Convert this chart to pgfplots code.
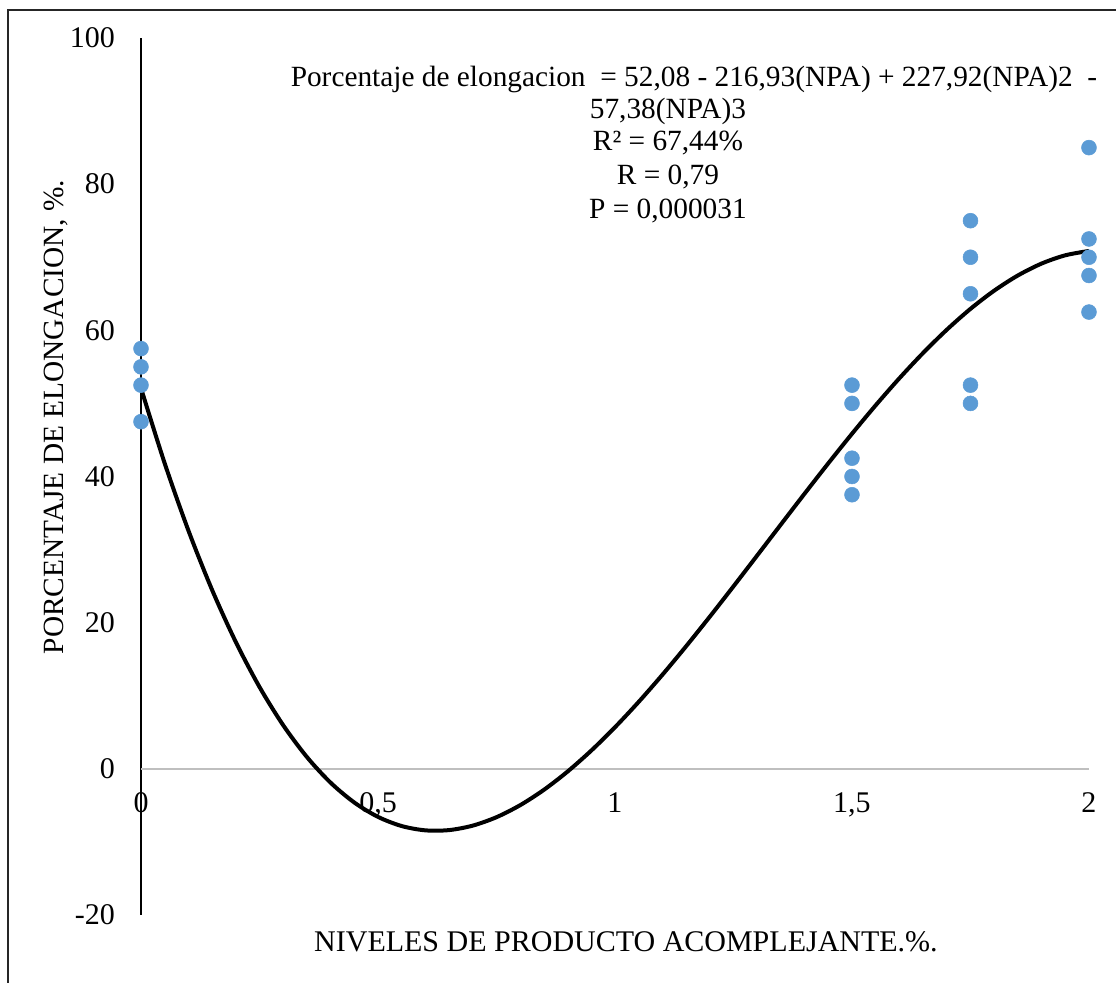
\documentclass[border=0pt]{standalone}
\usepackage{fontspec}
\setmainfont{Liberation Serif}
\usepackage{pgfplots}
\pgfplotsset{compat=1.18}
\usepackage{pgfplotstable}
\definecolor{ptblue}{HTML}{5B9BD5}
\pgfplotstableread{
x y
0 57.5
0 55
0 52.5
0 47.5
1.5 52.5
1.5 50
1.5 42.5
1.5 40
1.5 37.5
1.75 75
1.75 70
1.75 65
1.75 52.5
1.75 50
2 85
2 72.5
2 70
2 67.5
2 62.5
}\datatable
\pgfplotstableread{
x y
0 52.08
0.05 41.796
0.1 32.609
0.15 24.475
0.2 17.352
0.25 11.196
0.3 5.965
0.35 1.614
0.4 -1.897
0.45 -4.613
0.5 -6.578
0.55 -7.832
0.6 -8.421
0.65 -8.386
0.7 -7.772
0.75 -6.620
0.8 -4.974
0.85 -2.877
0.9 -0.372
0.95 2.498
1.0 5.69
1.05 9.160
1.1 12.867
1.15 16.766
1.2 20.816
1.25 24.972
1.3 29.192
1.35 33.433
1.4 37.651
1.45 41.802
1.5 45.848
1.55 49.740
1.6 53.439
1.65 56.900
1.7 60.080
1.75 62.937
1.8 65.427
1.85 67.507
1.9 69.135
1.95 70.266
2.0 70.86
}\fittable
\begin{document}
\fontsize{22}{26}\selectfont
\begin{tikzpicture}
\begin{axis}[
  scale only axis,
  width=711pt, height=657.75pt,
  xmin=0, xmax=2, ymin=-20, ymax=100,
  axis y line*=left,
  axis x line*=bottom,
  x axis line style={draw=none},
  y axis line style={draw=black, line width=1.5pt},
  major tick length=0pt,
  xtick={0,0.5,1,1.5,2},
  xticklabels={0,{0,5},1,{1,5},2},
  ytick={-20,0,20,40,60,80,100},
  yticklabels={-20,0,20,40,60,80,100},
  yticklabel style={xshift=-12pt},
  xticklabel style={yshift=99pt},
  tick label style={font=\fontsize{22.5}{26}\selectfont},
  clip=false,
]
\draw[black!25, line width=1.5pt] (axis cs:0,0) -- (axis cs:2,0);
\addplot[black, line width=3pt, smooth, no markers] table[x=x,y=y] {\fittable};
\addplot[only marks, mark=*, mark size=5.6pt, mark options={draw=ptblue, fill=ptblue}] table[x=x,y=y] {\datatable};
\node[anchor=base] at (axis cs:1.1667,93.30) {Porcentaje de elongacion\ \ = 52,08 - 216,93(NPA) + 227,92(NPA)2\ \ -};
\node[anchor=base] at (axis cs:1.1118,88.92) {57,38(NPA)3};
\node[anchor=base] at (axis cs:1.1118,84.54) {R² = 67,44\%};
\node[anchor=base] at (axis cs:1.1118,79.89) {R = 0,79};
\node[anchor=base] at (axis cs:1.1118,75.24) {P = 0,000031};
\node[rotate=90, font=\fontsize{22}{26}\selectfont] at (axis cs:-0.1793,48.15) {PORCENTAJE DE ELONGACION, \%.};
\node[font=\fontsize{22.5}{26}\selectfont] at (axis cs:1.0232,-23.67) {NIVELES DE PRODUCTO ACOMPLEJANTE.\%.};
\draw[black!85, line width=1.1pt] (axis cs:-0.2806,-29.27) -- (axis cs:-0.2806,103.83) -- (axis cs:2.0570,103.83);
\coordinate (bbSW) at (axis cs:-0.2975,-29.27);
\coordinate (bbNE) at (axis cs:2.0570,105.20);
\end{axis}
\pgfresetboundingbox
\path[use as bounding box] (bbSW) rectangle (bbNE);
\end{tikzpicture}
\end{document}
